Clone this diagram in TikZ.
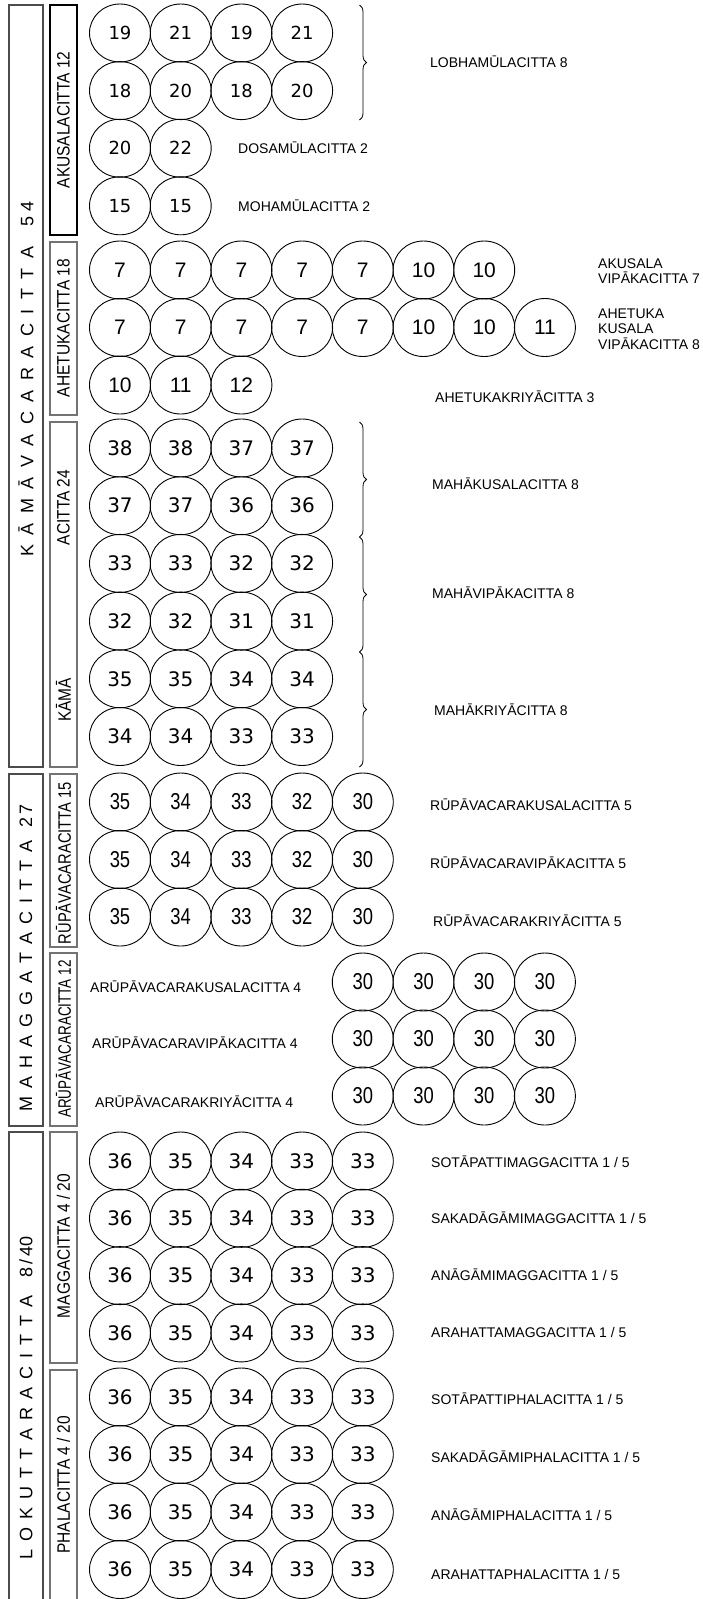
\documentclass[tikz,border=0pt]{standalone}
\usepackage{graphicx}
\usepackage{fontspec}
\setmainfont{Liberation Sans}
\newfontfamily\narrowfont[FakeStretch=0.86]{Liberation Sans}
\newfontfamily\numfont{DejaVu Sans}
\newfontfamily\tallfont[FakeStretch=0.8]{Liberation Sans}
\usetikzlibrary{shapes.geometric,decorations.pathreplacing}
\newcommand{\widespace}[1]{\spaceskip #1\relax}

\begin{document}
\begin{tikzpicture}[x=1pt, y=-1pt,
  cit/.style={ellipse, draw, line width=0.9pt, inner sep=0pt, minimum width=61pt, minimum height=58pt},
  numS/.style={cit, font=\numfont\fontsize{18}{18}\selectfont},
  numM/.style={cit, font=\numfont\fontsize{20}{20}\selectfont},
  numA/.style={cit, font=\fontsize{21}{21}\selectfont},
  numN/.style={cit, font=\tallfont\fontsize{23}{23}\selectfont},
  outbox/.style={draw=black!70, line width=1.1pt},
  inbox/.style={draw=black!55, line width=1.4pt},
  outtext/.style={rotate=90, inner sep=0pt, font=\fontsize{18}{20}\selectfont\widespace{#1}},
  outtext/.default=8pt,
  intext/.style={rotate=90, inner sep=0pt, font=\narrowfont\fontsize{18}{20}\selectfont},
  lbl/.style={anchor=west, inner sep=0pt, align=left, font=\fontsize{14}{15.5}\selectfont},
  brc/.style={decorate, decoration={brace, amplitude=7pt}, line width=0.8pt}]
  \useasboundingbox (0,0) rectangle (703,1599);

  % Outer boxes
  \draw[outbox] (9,5) rectangle (43,767);
  \draw[outbox] (9,774) rectangle (43,1126);
  \draw[outbox] (9,1132) rectangle (43,1700);
  \node[outtext=9.5pt] (kamavacara) at (26,379) {K Ā M Ā V A C A R A C I T T A\hspace{11pt} 5\hspace{5pt}4};
  \node[outtext] (mahaggata) at (26,958) {M A H A G G A T A C I T T A\hspace{5pt} 2\,7};
  \node[outtext] (lokuttara) at (26,1398) {L O K U T T A R A C I T T A\hspace{10pt} 8\,/\,40};

  % Inner boxes
  \draw[draw=black, line width=1.8pt] (50,5) rectangle (77,235);
  \draw[inbox] (50,242) rectangle (77,415);
  \draw[inbox] (50,422) rectangle (77,767);
  \draw[inbox] (50,774) rectangle (77,947);
  \draw[inbox] (50,953) rectangle (77,1126);
  \draw[inbox] (50,1132) rectangle (77,1363);
  \draw[inbox] (50,1370) rectangle (77,1700);
  \node[intext] (akusala) at (63.5,120) {AKUSALACITTA 12};
  \node[intext] (ahetuka) at (63.5,328) {AHETUKACITTA 18};
  \node[intext] (kamaA) at (63.5,507.5) {ACITTA 24};
  \node[intext] (kamaB) at (63.5,700) {KĀMĀ};
  \node[intext] (rupa) at (63.5,863) {\scalebox{0.95}[1]{RŪPĀVACARACITTA 15}};
  \node[intext] (arupa) at (63.5,1039) {\scalebox{0.87}[1]{ARŪPĀVACARACITTA 12}};
  \node[intext] (magga) at (63.5,1246) {MAGGACITTA 4 / 20};
  \node[intext] (phala) at (63.5,1485) {PHALACITTA 4 / 20};

  % Akusala rows
  \foreach \v [count=\i from 0] in {19,21,19,21}
    \node[numS] (lo1-\i) at (120+60.7*\i,33) {\v};
  \foreach \v [count=\i from 0] in {18,20,18,20}
    \node[numS] (lo2-\i) at (120+60.7*\i,90.6) {\v};
  \foreach \v [count=\i from 0] in {20,22}
    \node[numS] (do-\i) at (120+60.7*\i,148.2) {\v};
  \foreach \v [count=\i from 0] in {15,15}
    \node[numS] (mo-\i) at (120+60.7*\i,205.8) {\v};

  % Ahetuka rows
  \foreach \v [count=\i from 0] in {7,7,7,7,7,10,10}
    \node[numA] (ah1-\i) at (120+60.7*\i,270) {\v};
  \foreach \v [count=\i from 0] in {7,7,7,7,7,10,10,11}
    \node[numA] (ah2-\i) at (120+60.7*\i,327.5) {\v};
  \foreach \v [count=\i from 0] in {10,11,12}
    \node[numA] (ah3-\i) at (120+60.7*\i,385) {\v};

  % Kamasobhana rows
  \foreach \r/\a/\b/\c/\d in {0/38/38/37/37, 1/37/37/36/36, 2/33/33/32/32,
                             3/32/32/31/31, 4/35/35/34/34, 5/34/34/33/33}
    \foreach \v [count=\i from 0] in {\a,\b,\c,\d}
      \node[numM] (ks\r-\i) at (120+60.7*\i,448+57.7*\r) {\v};

  % Rupavacara rows
  \foreach \r in {0,1,2}
    \foreach \v [count=\i from 0] in {35,34,33,32,30}
      \node[numN] (ru\r-\i) at (120+60.7*\i,802+57.5*\r) {\v};

  % Arupavacara rows
  \foreach \r in {0,1,2}
    \foreach \v [count=\i from 4] in {30,30,30,30}
      \node[numN] (ar\r-\i) at (120+60.7*\i,982+57*\r) {\v};

  % Lokuttara rows
  \foreach \r in {0,1,2,3}
    \foreach \v [count=\i from 0] in {36,35,34,33,33}
      \node[numM] (mg\r-\i) at (120+60.7*\i,1161+57.3*\r) {\v};
  \foreach \r in {0,1,2,3}
    \foreach \v [count=\i from 0] in {36,35,34,33,33}
      \node[numM] (ph\r-\i) at (120+60.7*\i,1397+57.5*\r) {\v};

  % Braces
  \draw[brc] (359.5,5) -- (359.5,120);
  \draw[brc] (359.5,422) -- (359.5,537);
  \draw[brc] (359.5,537) -- (359.5,652);
  \draw[brc] (359.5,652) -- (359.5,767);

  % Labels
  \node[lbl] (lobha) at (430,62) {LOBHAMŪLACITTA 8};
  \node[lbl] (dosa) at (238,148) {DOSAMŪLACITTA 2};
  \node[lbl] (moha) at (238,206) {MOHAMŪLACITTA 2};
  \node[lbl] (akvip) at (598,271) {AKUSALA\\VIPĀKACITTA 7};
  \node[lbl] (ahkus) at (598,329) {AHETUKA\\KUSALA\\VIPĀKACITTA 8};
  \node[lbl] (ahkri) at (435,397) {AHETUKAKRIYĀCITTA 3};
  \node[lbl] (mkus) at (432,484) {MAHĀKUSALACITTA 8};
  \node[lbl] (mvip) at (432,593) {MAHĀVIPĀKACITTA 8};
  \node[lbl] (mkri) at (434,710) {MAHĀKRIYĀCITTA 8};
  \node[lbl] (rkus) at (430,805) {RŪPĀVACARAKUSALACITTA 5};
  \node[lbl] (rvip) at (430,863) {RŪPĀVACARAVIPĀKACITTA 5};
  \node[lbl] (rkri) at (433,921) {RŪPĀVACARAKRIYĀCITTA 5};
  \node[lbl] (akus) at (90,987) {ARŪPĀVACARAKUSALACITTA 4};
  \node[lbl] (avip) at (92,1043) {ARŪPĀVACARAVIPĀKACITTA 4};
  \node[lbl] (akri) at (95,1102) {ARŪPĀVACARAKRIYĀCITTA 4};
  \node[lbl] (sotm) at (431,1162) {SOTĀPATTIMAGGACITTA 1 / 5};
  \node[lbl] (sakm) at (431,1218) {SAKADĀGĀMIMAGGACITTA 1 / 5};
  \node[lbl] (anam) at (431,1275) {ANĀGĀMIMAGGACITTA 1 / 5};
  \node[lbl] (aram) at (431,1332) {ARAHATTAMAGGACITTA 1 / 5};
  \node[lbl] (sotp) at (431,1399) {SOTĀPATTIPHALACITTA 1 / 5};
  \node[lbl] (sakp) at (431,1457) {SAKADĀGĀMIPHALACITTA 1 / 5};
  \node[lbl] (anap) at (431,1515) {ANĀGĀMIPHALACITTA 1 / 5};
  \node[lbl] (arap) at (431,1574) {ARAHATTAPHALACITTA 1 / 5};
\end{tikzpicture}
\end{document}
